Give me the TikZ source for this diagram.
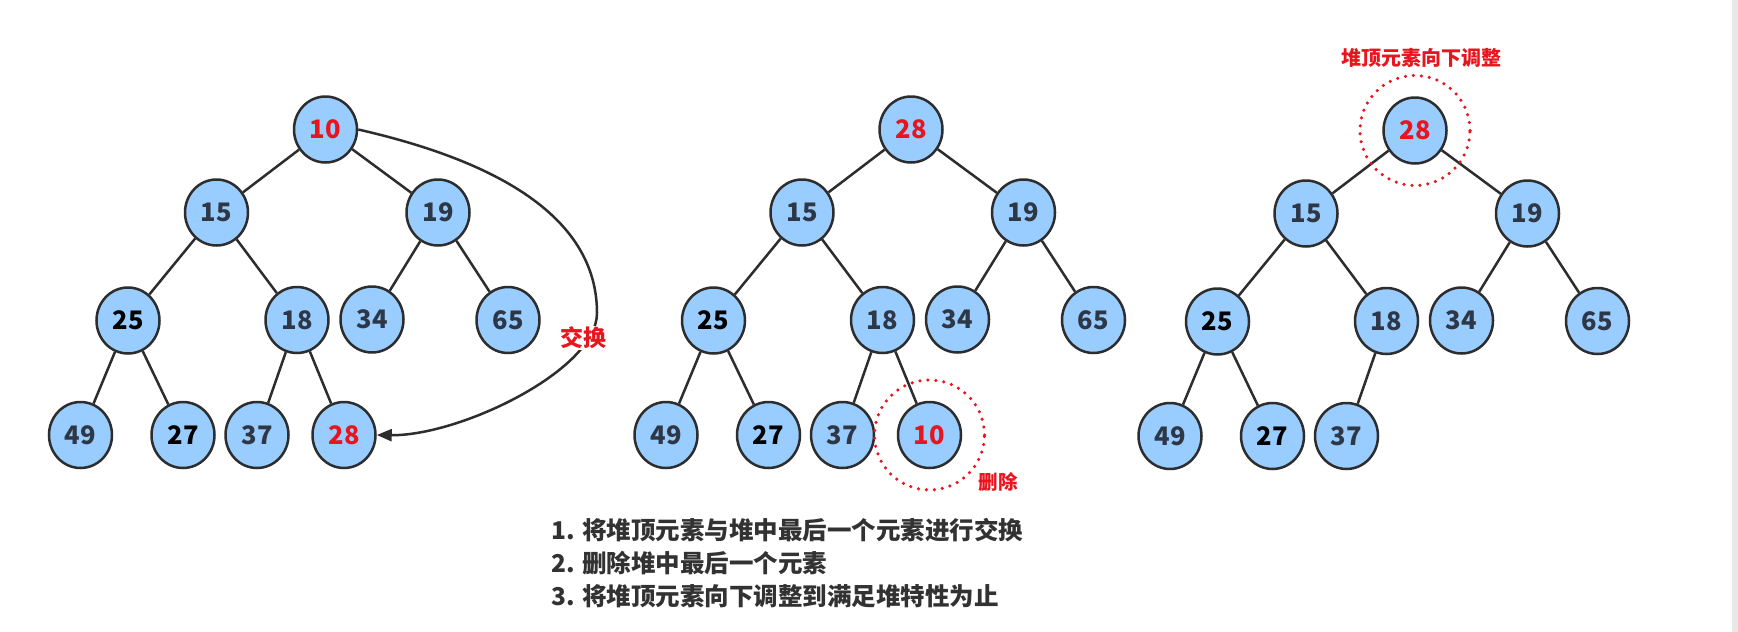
\documentclass[tikz,border=0pt]{standalone}
\usepackage{fontspec}
\setmainfont{Noto Sans CJK SC}
\usetikzlibrary{arrows.meta,shapes.geometric}
\definecolor{nodefill}{RGB}{153,204,255}
\definecolor{edgec}{RGB}{45,45,45}
\definecolor{hl}{RGB}{232,20,30}
\definecolor{numc}{RGB}{45,55,70}
\definecolor{txtc}{RGB}{50,50,50}
\tikzset{
  hnode/.style={ellipse, draw=edgec, line width=2.5pt, fill=nodefill,
    minimum width=63pt, minimum height=66pt, inner sep=0pt,
    font=\fontsize{25.5}{25.5}\selectfont\bfseries, text=numc},
  hedge/.style={draw=edgec, line width=2.5pt},
  dotring/.style={circle, draw=hl, line width=3.5pt, dash pattern=on 0pt off 8pt,
    line cap=round, minimum size=110pt, inner sep=0pt},
  redlbl/.style={text=hl, font=\fontsize{20}{20}\selectfont\bfseries, inner sep=1pt},
  steptxt/.style={anchor=west, text=txtc, font=\fontsize{24.5}{24.5}\selectfont\bfseries, inner sep=0pt}
}
\begin{document}
\begin{tikzpicture}[x=1pt,y=-1pt]
\useasboundingbox (0,0) rectangle (1738,632);
\fill[white] (0,0) rectangle (1738,632);
\fill[gray!18] (1732,0) rectangle (1738,632);

% ---------- tree 1 ----------
\begin{scope}[shift={(-585.5,0)}, name prefix=t1-]
\node[hnode,text=hl] (r) at (911,129.5) {10};
\node[hnode] (a) at (802,212.5) {15};
\node[hnode] (b) at (1023.5,212.5) {19};
\node[hnode,text=black] (c) at (713.5,320.5) {25};
\node[hnode] (d) at (882.5,320) {18};
\node[hnode] (e) at (957.5,319.5) {34};
\node[hnode] (f) at (1093.5,320) {65};
\node[hnode] (g) at (666,435) {49};
\node[hnode,text=black] (h) at (768.5,435) {27};
\node[hnode] (i) at (842.5,435) {37};
\node[hnode,text=hl] (j) at (929.5,435) {28};
\end{scope}

% ---------- tree 2 ----------
\begin{scope}[name prefix=t2-]
\node[hnode,text=hl] (r) at (911,129.5) {28};
\node[hnode] (a) at (802,212.5) {15};
\node[hnode] (b) at (1023.5,212.5) {19};
\node[hnode,text=black] (c) at (713.5,320.5) {25};
\node[hnode] (d) at (882.5,320) {18};
\node[hnode] (e) at (957.5,319.5) {34};
\node[hnode] (f) at (1093.5,320) {65};
\node[hnode] (g) at (666,435) {49};
\node[hnode,text=black] (h) at (768.5,435) {27};
\node[hnode] (i) at (842.5,435) {37};
\node[hnode,text=hl] (j) at (929.5,435) {10};
\end{scope}

% ---------- tree 3 ----------
\begin{scope}[shift={(504,1)}, name prefix=t3-]
\node[hnode,text=hl] (r) at (911,129.5) {28};
\node[hnode] (a) at (802,212.5) {15};
\node[hnode] (b) at (1023.5,212.5) {19};
\node[hnode,text=black] (c) at (713.5,320.5) {25};
\node[hnode] (d) at (882.5,320) {18};
\node[hnode] (e) at (957.5,319.5) {34};
\node[hnode] (f) at (1093.5,320) {65};
\node[hnode] (g) at (666,435) {49};
\node[hnode,text=black] (h) at (768.5,435) {27};
\node[hnode] (i) at (842.5,435) {37};
\end{scope}

% ---------- edges ----------
\foreach \t in {t1,t2,t3}{
  \draw[hedge] (\t-r)--(\t-a) (\t-r)--(\t-b) (\t-a)--(\t-c) (\t-a)--(\t-d)
    (\t-b)--(\t-e) (\t-b)--(\t-f) (\t-c)--(\t-g) (\t-c)--(\t-h) (\t-d)--(\t-i);
}
\draw[hedge] (t1-d)--(t1-j) (t2-d)--(t2-j);

% ---------- swap arrow ----------
\coordinate (swapmid) at (597,313);
\draw[hedge, -{Triangle[length=15pt,width=12pt]}] (t1-r.east)
  .. controls (470,155) and (597,205) .. (swapmid)
  .. controls (597,370) and (460,436) .. (t1-j.east);
\node[redlbl, fill=white, font=\fontsize{23}{23}\selectfont\bfseries] (swaplbl) at (583,338) {交换};

% ---------- highlight rings ----------
\node[dotring] (delring) at (t2-j) {};
\node[redlbl, font=\fontsize{19.5}{19.5}\selectfont\bfseries] (dellbl) at (998,482) {删除};
\node[dotring] (topring) at (t3-r) {};
\node[redlbl] (toplbl) at (1421.5,58) {堆顶元素向下调整};

% ---------- steps ----------
\node[steptxt] (s1) at (551,530) {1. 将堆顶元素与堆中最后一个元素进行交换};
\node[steptxt] (s2) at (551,563) {2. 删除堆中最后一个元素};
\node[steptxt] (s3) at (551,596.5) {3. 将堆顶元素向下调整到满足堆特性为止};
\end{tikzpicture}
\end{document}
